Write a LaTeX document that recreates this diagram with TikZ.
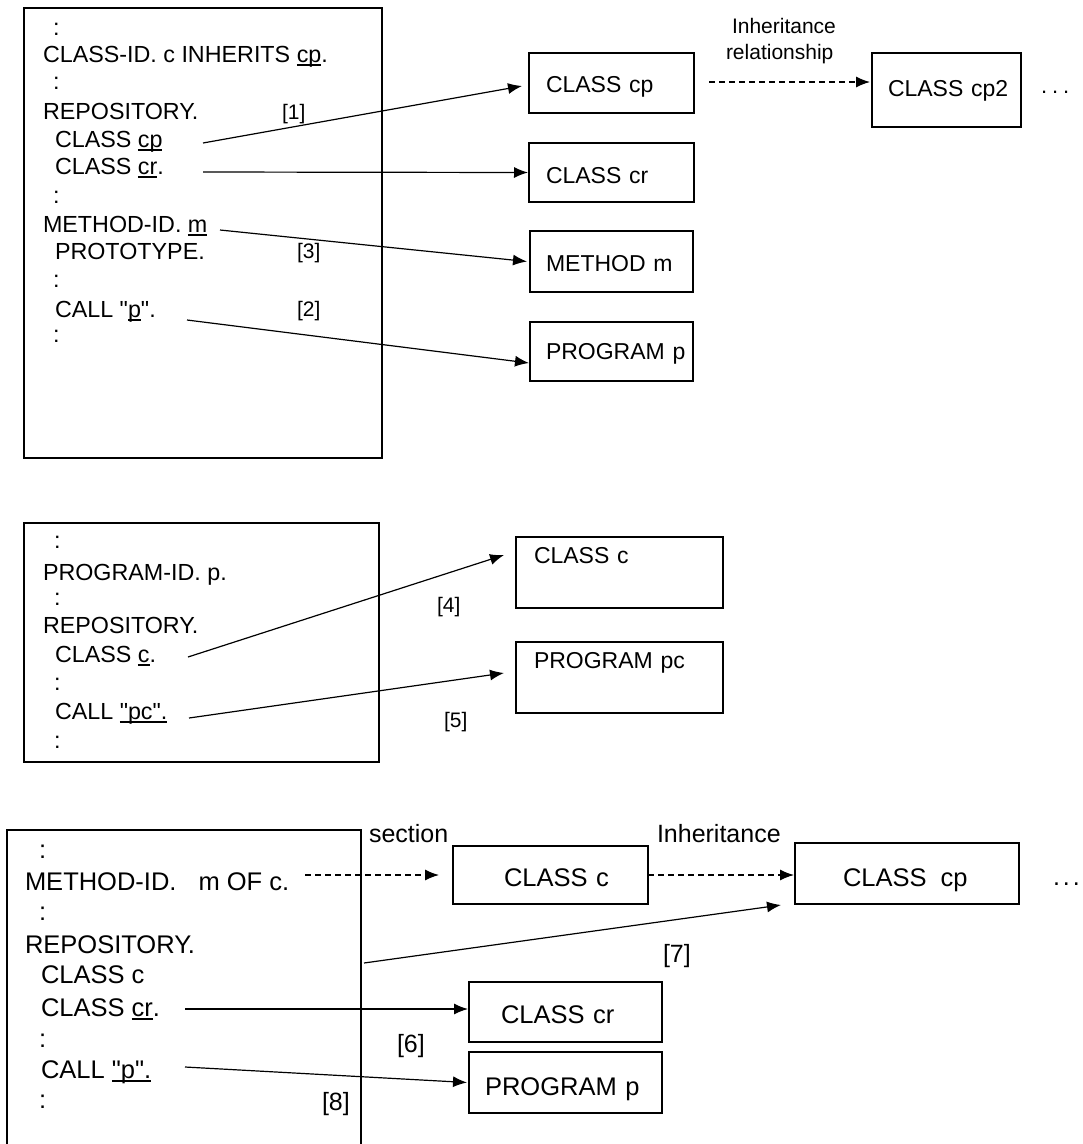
\documentclass[tikz,border=0pt]{standalone}
\usepackage{fontspec}
\setmainfont{Liberation Sans}
\usetikzlibrary{arrows.meta}
\newcommand\myfs[1]{\fontsize{#1}{#1}\selectfont}
\newcommand\myul[1]{\setbox0\hbox{#1}\rlap{\rule[-3.5pt]{\wd0}{1.2pt}}\box0}
\newcommand\q{\textquotedbl}
\tikzset{
  txt/.style={anchor=base west, inner sep=0pt, outer sep=0pt},
  frame/.style={draw, line width=1.5pt},
  bx/.style={draw, line width=1.5pt, inner sep=0pt, outer sep=0pt, anchor=north west, align=left},
  conn/.style={line width=1.2pt, -{Latex[length=14pt,width=11pt]}},
  dconn/.style={conn, dash pattern=on 6pt off 4pt},
}
\begin{document}
\begin{tikzpicture}[x=1pt,y=-1pt]
\useasboundingbox (0,0) rectangle (1083,1144);
\fill[white] (0,0) rectangle (1083,1144);

% ---------------- top section ----------------
\draw[frame] (24,8) rectangle (382,458);
\begin{scope}[every node/.style={txt, font=\myfs{23.3}}]
\node (k1) at (53,35) {:};
\node (k2) at (43,62) {CLASS-ID. c INHERITS \myul{cp}.};
\node (k3) at (53,89) {:};
\node (k4) at (43,119) {REPOSITORY.};
\node (k5) at (55,147) {CLASS \myul{cp}};
\node (k6) at (55,174) {CLASS \myul{cr}.};
\node (k7) at (53,203) {:};
\node (k8) at (43,232) {METHOD-ID. \myul{m}};
\node (k9) at (55,259) {PROTOTYPE.};
\node (k10) at (53,287) {:};
\node (k11) at (55,317) {CALL \q\myul{p}\q.};
\node (k12) at (53,342) {:};
\end{scope}
\begin{scope}[every node/.style={txt, font=\myfs{21}}]
\node (l1) at (282,119) {[1]};
\node (l3) at (297,258) {[3]};
\node (l2) at (297,316) {[2]};
\node (inh1) at (732,33) {Inheritance};
\node (inh2) at (726,59) {relationship};
\end{scope}

\node[bx, font=\myfs{23}, text width=165pt, text height=39pt, text depth=21pt] (cp) at (529,53) {\hspace*{17pt}CLASS cp};
\node[bx, font=\myfs{23}, text width=165pt, text height=40pt, text depth=19pt] (cr) at (529,143) {\hspace*{17pt}CLASS cr};
\node[bx, font=\myfs{23}, text width=163pt, text height=40pt, text depth=21pt] (mm) at (530,231) {\hspace*{16pt}METHOD m};
\node[bx, font=\myfs{23}, text width=163pt, text height=37pt, text depth=22pt] (pp) at (530,322) {\hspace*{16pt}PROGRAM p};
\node[bx, font=\myfs{23}, text width=149pt, text height=43pt, text depth=31pt] (cp2) at (872,53) {\hspace*{16pt}CLASS cp2};
\node[txt, font=\myfs{22}] (dots1) at (1041,93) {.\kern5pt.\kern5pt.};

\coordinate (s1) at (203,143);
\coordinate (s2) at (203,172);
\coordinate (s3) at (220,230);
\coordinate (s4) at (187,320);
\draw[conn] (s1) -- ([xshift=-7pt,yshift=-3pt]cp.west);
\draw[conn] (s2) -- ([xshift=-1pt]cr.west);
\draw[conn] (s3) -- ([xshift=-3pt]mm.west);
\draw[conn] (s4) -- ([xshift=-1pt,yshift=-11.5pt]pp.west);
\draw[dconn] ([xshift=15pt,yshift=1pt]cp.east) -- ([xshift=-2pt,yshift=8pt]cp2.west);

% ---------------- middle section ----------------
\draw[frame] (24,523) rectangle (379,762);
\begin{scope}[every node/.style={txt, font=\myfs{23.3}}]
\node (m1) at (54,548) {:};
\node (m2) at (43,580) {PROGRAM-ID. p.};
\node (m3) at (54,605) {:};
\node (m4) at (43,633) {REPOSITORY.};
\node (m5) at (55,662) {CLASS \myul{c}.};
\node (m6) at (54,690) {:};
\node (m7) at (55,719) {CALL \myul{\q pc\q.}};
\node (m8) at (54,748) {:};
\end{scope}
\begin{scope}[every node/.style={txt, font=\myfs{21}}]
\node (l4) at (437,612) {[4]};
\node (l5) at (444,727) {[5]};
\end{scope}
\node[bx, font=\myfs{23}, text width=207pt, text height=26pt, text depth=45pt] (mc) at (516,537) {\hspace*{18pt}CLASS c};
\node[bx, font=\myfs{23}, text width=207pt, text height=26pt, text depth=45pt] (mpc) at (516,642) {\hspace*{18pt}PROGRAM pc};
\coordinate (s5) at (188,657);
\coordinate (s6) at (189,718);
\draw[conn] (s5) -- ([xshift=-12pt,yshift=17.5pt]mc.west);
\draw[conn] (s6) -- ([xshift=-12pt,yshift=4.5pt]mpc.west);

% ---------------- bottom section ----------------
\draw[frame] (7,1150) -- (7,830) -- (361,830) -- (361,1150);
\begin{scope}[every node/.style={txt, font=\myfs{25.5}}]
\node (b1) at (39,858) {:};
\node (b2) at (25,890) {METHOD-ID.\hspace{22pt}m OF c.};
\node (b3) at (39,920) {:};
\node (b4) at (25,953) {REPOSITORY.};
\node (b5) at (41,983) {CLASS c};
\node (b6) at (41,1016) {CLASS \myul{cr}.};
\node (b7) at (39,1047) {:};
\node (b8) at (41,1078) {CALL \myul{\q p\q.}};
\node (b9) at (39,1108) {:};
\end{scope}
\begin{scope}[every node/.style={txt, font=\myfs{25}}]
\node (l8) at (322,1110) {[8]};
\node (l6) at (397,1052) {[6]};
\node (l7) at (663,962) {[7]};
\node (sec) at (369,842) {section};
\node (inh3) at (657,842) {Inheritance};
\node (dots2) at (1053,885) {.\kern3pt.\kern3pt.};
\end{scope}
\node[bx, font=\myfs{25.5}, text width=195pt, text height=40pt, text depth=18pt] (bc) at (453,846) {\hspace*{51pt}CLASS c};
\node[bx, font=\myfs{25.5}, text width=224pt, text height=43pt, text depth=18pt] (bcp) at (795,843) {\hspace*{48pt}CLASS\hspace{14pt}cp};
\node[bx, font=\myfs{25.5}, text width=193pt, text height=41pt, text depth=19pt] (bcr) at (469,982) {\hspace*{32pt}CLASS cr};
\node[bx, font=\myfs{25.5}, text width=193pt, text height=43pt, text depth=18pt] (bpp) at (469,1052) {\hspace*{16pt}PROGRAM p};
\coordinate (s7) at (305,875);
\coordinate (s8) at (364,963);
\coordinate (s9) at (185,1009);
\coordinate (s10) at (185,1067);
\draw[dconn] (s7) -- ([xshift=-14pt]bc.west);
\draw[dconn] (bc.east) -- ([xshift=-1pt,yshift=-1.5pt]bcp.west);
\draw[conn] (s8) -- ([xshift=-14pt,yshift=-1pt]bcp.south west);
\draw[conn] (s9) -- ([xshift=-1pt,yshift=3pt]bcr.west);
\draw[conn] (s10) -- ([xshift=-2pt]bpp.west);
\end{tikzpicture}
\end{document}
